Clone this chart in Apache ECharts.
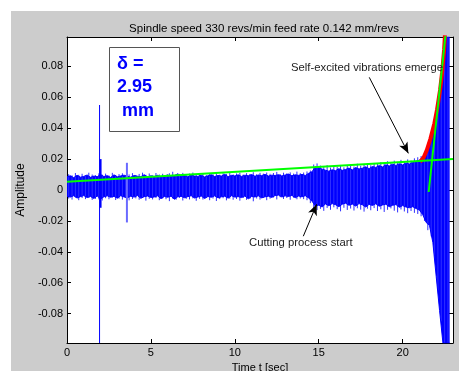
<!DOCTYPE html>
<html>
<head>
<meta charset="utf-8">
<script src="https://cdn.jsdelivr.net/npm/echarts@6/dist/echarts.min.js"></script>
<style>
html,body{margin:0;padding:0;background:#fff;}
#wrap{position:relative;width:459px;height:371px;background:#fff;overflow:hidden;}
#fig{position:absolute;left:11px;top:11px;right:0;bottom:0;background:#cccccc;}
#c{position:absolute;left:0;top:0;width:459px;height:371px;}
</style>
</head>
<body>
<div id="wrap"><div id="fig"></div><div id="c"></div></div>
<script>
const FONT = '"Liberation Sans", Arial, Helvetica, sans-serif';
const titleText = 'Spindle speed 330 revs/min feed rate 0.142 mm/revs';
const xAxisTitle = 'Time t [sec]';
const yAxisTitle = 'Amplitude';
const xTicks = [0, 5, 10, 15, 20];
const yTicks = [-0.08, -0.06, -0.04, -0.02, 0, 0.02, 0.04, 0.06, 0.08];

// vibration signal envelope (every 0.2 s)
const sampleTimes = [
  0.0,0.2,0.4,0.6,0.8,1.0,1.2,1.4,1.6,1.8,
  2.0,2.2,2.4,2.6,2.8,3.0,3.2,3.4,3.6,3.8,
  4.0,4.2,4.4,4.6,4.8,5.0,5.2,5.4,5.6,5.8,
  6.0,6.2,6.4,6.6,6.8,7.0,7.2,7.4,7.6,7.8,
  8.0,8.2,8.4,8.6,8.8,9.0,9.2,9.4,9.6,9.8,
  10.0,10.2,10.4,10.6,10.8,11.0,11.2,11.4,11.6,11.8,
  12.0,12.2,12.4,12.6,12.8,13.0,13.2,13.4,13.6,13.8,
  14.0,14.2,14.4,14.6,14.8,15.0,15.2,15.4,15.6,15.8,
  16.0,16.2,16.4,16.6,16.8,17.0,17.2,17.4,17.6,17.8,
  18.0,18.2,18.4,18.6,18.8,19.0,19.2,19.4,19.6,19.8,
  20.0,20.2,20.4,20.6,20.8,21.0,21.2,21.4,21.6,21.8,
  22.0,22.2,22.4,22.6,22.8
];
const upperEnvelope = [
  .0085,.0092,.0080,.0095,.0083,.0088,.0097,.0082,.0090,.0086,
  .0100,.0087,.0093,.0081,.0098,.0085,.0091,.0096,.0088,.0083,
  .0094,.0089,.0086,.0099,.0084,.0092,.0087,.0095,.0082,.0090,
  .0098,.0086,.0093,.0105,.0089,.0094,.0085,.0097,.0090,.0088,
  .0096,.0084,.0092,.0099,.0087,.0094,.0090,.0102,.0086,.0095,
  .0091,.0098,.0088,.0096,.0092,.0100,.0089,.0097,.0093,.0101,
  .0090,.0096,.0094,.0099,.0091,.0097,.0103,.0092,.0098,.0095,
  .0101,.0094,.0108,.0118,.0150,.0146,.0135,.0128,.0122,.0131,
  .0125,.0138,.0127,.0133,.0142,.0130,.0145,.0136,.0141,.0150,
  .0138,.0152,.0146,.0158,.0149,.0163,.0155,.0167,.0159,.0170,
  .0162,.0175,.0168,.0180,.0186,.0192,.0210,.0245,.0310,.0400,
  .0510,.0620,.0740,.0990,.0990
];
const lowerEnvelope = [
  -.0040,-.0046,-.0037,-.0052,-.0043,-.0036,-.0049,-.0042,-.0055,-.0039,
  -.0058,-.0044,-.0038,-.0047,-.0041,-.0053,-.0037,-.0045,-.0050,-.0040,
  -.0046,-.0036,-.0054,-.0043,-.0039,-.0048,-.0045,-.0038,-.0056,-.0042,
  -.0047,-.0040,-.0060,-.0044,-.0041,-.0050,-.0043,-.0037,-.0052,-.0045,
  -.0039,-.0055,-.0042,-.0047,-.0038,-.0051,-.0044,-.0040,-.0053,-.0037,
  -.0046,-.0043,-.0049,-.0039,-.0057,-.0042,-.0045,-.0038,-.0051,-.0044,
  -.0040,-.0048,-.0036,-.0033,-.0045,-.0038,-.0042,-.0035,-.0050,-.0039,
  -.0044,-.0037,-.0052,-.0072,-.0105,-.0098,-.0110,-.0090,-.0102,-.0088,
  -.0095,-.0108,-.0092,-.0085,-.0099,-.0091,-.0104,-.0088,-.0096,-.0110,
  -.0093,-.0100,-.0089,-.0105,-.0097,-.0092,-.0108,-.0099,-.0094,-.0112,
  -.0101,-.0110,-.0115,-.0108,-.0120,-.0130,-.0160,-.0210,-.0230,-.0340,
  -.0560,-.0780,-.0990,-.0990,-.0990
];

// noise peaks poking out of the band (between the envelope samples)
const peakTimes = [
  0.1,0.3,0.5,0.7,0.9,1.1,1.3,1.5,1.7,1.9,
  2.1,2.3,2.5,2.7,2.9,3.1,3.3,3.5,3.7,3.9,
  4.1,4.3,4.5,4.7,4.9,5.1,5.3,5.5,5.7,5.9,
  6.1,6.3,6.5,6.7,6.9,7.1,7.3,7.5,7.7,7.9,
  8.1,8.3,8.5,8.7,8.9,9.1,9.3,9.5,9.7,9.9,
  10.1,10.3,10.5,10.7,10.9,11.1,11.3,11.5,11.7,11.9,
  12.1,12.3,12.5,12.7,12.9,13.1,13.3,13.5,13.7,13.9,
  14.1,14.3,14.5,14.7,14.9,15.1,15.3,15.5,15.7,15.9,
  16.1,16.3,16.5,16.7,16.9,17.1,17.3,17.5,17.7,17.9,
  18.1,18.3,18.5,18.7,18.9,19.1,19.3,19.5,19.7,19.9,
  20.1,20.3,20.5,20.7,20.9,21.1,21.3,21.5,21.7,21.9,
  22.1,22.3,22.5,22.7
];
const peakUpper = [
  .0102,.0095,.0110,.0098,.0105,.0093,.0112,.0100,.0096,.0108,
  .0099,.0106,.0094,.0111,.0097,.0103,.0108,.0095,.0101,.0109,
  .0096,.0104,.0112,.0098,.0107,.0094,.0110,.0100,.0105,.0097,
  .0108,.0118,.0099,.0104,.0111,.0096,.0106,.0113,.0098,.0105,
  .0110,.0097,.0107,.0102,.0114,.0099,.0108,.0104,.0116,.0101,
  .0107,.0112,.0100,.0109,.0104,.0115,.0102,.0111,.0106,.0113,
  .0105,.0110,.0117,.0103,.0112,.0108,.0114,.0106,.0119,.0109,
  .0113,.0120,.0126,.0165,.0172,.0158,.0148,.0160,.0145,.0155,
  .0150,.0162,.0147,.0158,.0166,.0152,.0170,.0157,.0163,.0173,
  .0160,.0175,.0168,.0180,.0171,.0186,.0176,.0190,.0182,.0195,
  .0185,.0198,.0190,.0205,.0212,.0220,.0235,.0280,.0350,.0450,
  .0570,.0690,.0850,.0990
];
const peakLower = [
  -.0055,-.0062,-.0048,-.0066,-.0052,-.0059,-.0050,-.0064,-.0057,-.0061,
  -.0068,-.0053,-.0060,-.0049,-.0065,-.0056,-.0062,-.0051,-.0067,-.0058,
  -.0054,-.0063,-.0050,-.0069,-.0057,-.0061,-.0052,-.0066,-.0055,-.0060,
  -.0072,-.0056,-.0063,-.0051,-.0068,-.0058,-.0061,-.0054,-.0070,-.0057,
  -.0062,-.0050,-.0066,-.0055,-.0071,-.0059,-.0053,-.0067,-.0056,-.0063,
  -.0058,-.0069,-.0052,-.0064,-.0057,-.0073,-.0055,-.0062,-.0050,-.0066,
  -.0056,-.0049,-.0061,-.0047,-.0058,-.0052,-.0063,-.0050,-.0060,-.0055,
  -.0059,-.0066,-.0085,-.0118,-.0130,-.0122,-.0135,-.0116,-.0128,-.0112,
  -.0124,-.0138,-.0115,-.0129,-.0120,-.0133,-.0118,-.0127,-.0140,-.0121,
  -.0131,-.0117,-.0136,-.0125,-.0142,-.0128,-.0119,-.0134,-.0145,-.0126,
  -.0139,-.0150,-.0136,-.0148,-.0155,-.0170,-.0200,-.0260,-.0300,-.0420,
  -.0650,-.0850,-.0990,-.0990
];

// isolated impulse spikes
const spikeTimes = [1.94, 2.0, 3.57];
const spikeTops = [0.055, 0.020, 0.0176];
const spikeBottoms = [-0.099, -0.0115, -0.021];

// green trend line (cutting level)
const trendTimes = [0, 23];
const trendValues = [0.0053, 0.0200];
// green steep line (onset)
const onsetTimes = [21.55, 22.55];
const onsetValues = [-0.0013, 0.0998];
// red exponential growth fit
const growthTimes = [21.04, 21.25, 21.44, 21.65, 21.89, 22.05, 22.23, 22.35, 22.47, 22.52];
const growthValues = [0.0182, 0.0210, 0.0258, 0.0330, 0.0431, 0.0520, 0.0647, 0.0760, 0.0906, 0.1000];

// annotations
const deltaLines = ['δ =', '2.95', ' mm'];
const noteSelf = 'Self-excited vibrations emerge';
const noteCut = 'Cutting process start';
const arrowSelfFrom = [18.01, 0.0729], arrowSelfTo = [20.34, 0.0237];
const arrowCutFrom = [14.08, -0.0299], arrowCutTo = [14.88, -0.0092];

const pairs = (xs, ys) => xs.map((x, i) => [x, ys[i]]);

const chart = echarts.init(document.getElementById('c'), null, {renderer: 'canvas'});

const axisText = {fontSize: 11, color: '#000', fontFamily: FONT};
const blue = '#0000ff';

const vSegment = (color, widthFn) => (params, api) => {
  const t = api.value(0);
  const p1 = api.coord([t, api.value(1)]);
  const p2 = api.coord([t, api.value(2)]);
  return {
    type: 'line',
    shape: {x1: p1[0], y1: p1[1], x2: p2[0], y2: p2[1]},
    style: {stroke: typeof color === 'function' ? color(params.dataIndex) : color,
            lineWidth: widthFn(params.dataIndex)}
  };
};

const option = {
  backgroundColor: 'transparent',
  animation: false,
  title: {
    text: titleText, left: 259, top: 18, textAlign: 'center',
    textStyle: {fontSize: 11.5, fontWeight: 'normal', color: '#000', fontFamily: FONT}
  },
  grid: {
    left: 67, top: 37, right: 6, bottom: 28,
    show: true, backgroundColor: '#ffffff', borderWidth: 0,
    containLabel: false, outerBoundsMode: 'none'
  },
  xAxis: [
    {
      type: 'value', min: 0, max: 23, position: 'bottom',
      axisLine: {show: true, onZero: false, lineStyle: {color: '#000', width: 1}},
      axisTick: {show: true, inside: true, length: 4, customValues: xTicks, lineStyle: {color: '#000'}},
      axisLabel: {show: true, customValues: xTicks, margin: 4, ...axisText},
      splitLine: {show: false},
      name: xAxisTitle, nameLocation: 'middle', nameGap: 17,
      nameTextStyle: {...axisText}
    },
    {
      type: 'value', min: 0, max: 23, position: 'top',
      axisLine: {show: true, onZero: false, lineStyle: {color: '#000', width: 1}},
      axisTick: {show: true, inside: true, length: 4, customValues: xTicks, lineStyle: {color: '#000'}},
      axisLabel: {show: false},
      splitLine: {show: false}
    }
  ],
  yAxis: [
    {
      type: 'value', min: -0.099, max: 0.099, position: 'left',
      axisLine: {show: true, onZero: false, lineStyle: {color: '#000', width: 1}},
      axisTick: {show: true, inside: true, length: 4, customValues: yTicks, lineStyle: {color: '#000'}},
      axisLabel: {show: true, customValues: yTicks, margin: 4, ...axisText,
        formatter: v => (Math.abs(v) < 1e-9 ? '0' : Number(v).toFixed(2))},
      splitLine: {show: false},
      name: yAxisTitle, nameLocation: 'middle', nameGap: 39, nameRotate: 90,
      nameTextStyle: {...axisText, fontSize: 12}
    },
    {
      type: 'value', min: -0.099, max: 0.099, position: 'right',
      axisLine: {show: true, onZero: false, lineStyle: {color: '#000', width: 1}},
      axisTick: {show: true, inside: true, length: 4, customValues: yTicks, lineStyle: {color: '#000'}},
      axisLabel: {show: false},
      splitLine: {show: false}
    }
  ],
  series: [
    {
      name: 'upper', type: 'line', xAxisIndex: 0, yAxisIndex: 0,
      data: pairs(sampleTimes, upperEnvelope),
      showSymbol: false, symbol: 'none', silent: true, clip: true,
      lineStyle: {color: blue, width: 1}, areaStyle: {color: blue, opacity: 1}, z: 2
    },
    {
      name: 'lower', type: 'line', xAxisIndex: 0, yAxisIndex: 0,
      data: pairs(sampleTimes, lowerEnvelope),
      showSymbol: false, symbol: 'none', silent: true, clip: true,
      lineStyle: {color: blue, width: 1}, areaStyle: {color: blue, opacity: 1}, z: 2
    },
    {
      name: 'peaks', type: 'custom', xAxisIndex: 0, yAxisIndex: 0, silent: true, clip: true,
      data: peakTimes.map((t, i) => [t, peakUpper[i], peakLower[i]]),
      encode: {x: 0, y: [1, 2]},
      renderItem: vSegment('#2f2fff', () => 1),
      z: 2
    },
    {
      name: 'spikes', type: 'custom', xAxisIndex: 0, yAxisIndex: 0, silent: true, clip: true,
      data: spikeTimes.map((t, i) => [t, spikeTops[i], spikeBottoms[i]]),
      encode: {x: 0, y: [1, 2]},
      renderItem: vSegment(i => (i === 2 ? '#6a6aff' : blue), i => (i === 0 ? 1 : 2)),
      z: 3
    },
    {
      name: 'growth', type: 'line', data: pairs(growthTimes, growthValues),
      showSymbol: false, symbol: 'none', silent: true, clip: true, smooth: false,
      lineStyle: {color: '#ff0000', width: 4}, z: 4
    },
    {
      name: 'trend', type: 'line', data: pairs(trendTimes, trendValues),
      showSymbol: false, symbol: 'none', silent: true, clip: true,
      lineStyle: {color: '#00ff00', width: 2}, z: 5,
      markLine: {
        silent: true, symbol: ['none', 'arrow'], symbolSize: [7, 11], precision: 4,
        label: {show: false},
        lineStyle: {color: '#000', width: 1, type: 'solid'},
        emphasis: {disabled: true},
        data: [
          [{coord: arrowSelfFrom}, {coord: arrowSelfTo}],
          [{coord: arrowCutFrom}, {coord: arrowCutTo}]
        ]
      }
    },
    {
      name: 'onset', type: 'line', data: pairs(onsetTimes, onsetValues),
      showSymbol: false, symbol: 'none', silent: true, clip: true,
      lineStyle: {color: '#00ff00', width: 2}, z: 6
    }
  ],
  graphic: [
    {
      type: 'group', left: 109, top: 47, z: 100,
      children: [
        {type: 'rect', shape: {x: 0.5, y: 0.5, width: 70, height: 84},
          style: {fill: '#ffffff', stroke: '#555555', lineWidth: 1}},
        {type: 'text', x: 8, y: 17, style: {text: deltaLines[0], fontSize: 18, fontWeight: 'bold', fontFamily: FONT, fill: blue, verticalAlign: 'middle'}},
        {type: 'text', x: 8, y: 40, style: {text: deltaLines[1], fontSize: 18, fontWeight: 'bold', fontFamily: FONT, fill: blue, verticalAlign: 'middle'}},
        {type: 'text', x: 8, y: 64, style: {text: deltaLines[2], fontSize: 18, fontWeight: 'bold', fontFamily: FONT, fill: blue, verticalAlign: 'middle'}}
      ]
    },
    {type: 'text', x: 291, y: 68, z: 100, style: {text: noteSelf, fontSize: 11.3, fontFamily: FONT, fill: '#222', verticalAlign: 'middle'}},
    {type: 'text', x: 249, y: 243, z: 100, style: {text: noteCut, fontSize: 11.3, fontFamily: FONT, fill: '#222', verticalAlign: 'middle'}}
  ]
};
chart.setOption(option);
</script>
</body>
</html>
